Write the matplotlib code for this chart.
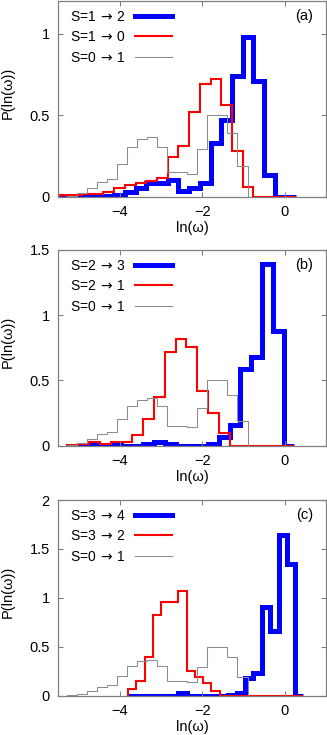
import numpy as np
import matplotlib
matplotlib.use("Agg")
import matplotlib.pyplot as plt
from matplotlib.lines import Line2D

plt.rcParams["font.family"] = ["Liberation Sans", "DejaVu Sans"]
plt.rcParams["font.size"] = 10

# bin edges, one set per panel
edges_a = [-5.44, -5.18, -4.92, -4.66, -4.40, -4.14, -3.88, -3.62, -3.36, -3.10, -2.84, -2.58,
           -2.32, -2.06, -1.80, -1.54, -1.28, -1.02, -0.76, -0.50, -0.24, 0.02, 0.28]
edges_b = [-5.27, -5.01, -4.75, -4.48, -4.22, -3.96, -3.70, -3.44, -3.17, -2.91, -2.65,
           -2.39, -2.13, -1.86, -1.60, -1.34, -1.08, -0.82, -0.55, -0.29, -0.03, 0.23]
edges_c = [-3.80, -3.60, -3.40, -3.19, -2.99, -2.79, -2.58, -2.38, -2.18, -1.98, -1.78,
           -1.57, -1.37, -1.17, -0.96, -0.76, -0.56, -0.36, -0.15, 0.05, 0.25, 0.45]
edges_ref = [-5.29, -5.05, -4.80, -4.56, -4.32, -4.07, -3.83, -3.59, -3.34, -3.10,
             -2.85, -2.61, -2.37, -2.12, -1.88, -1.63, -1.39, -1.15, -0.90]

# S=0 -> 1 reference, same in all panels
p_ref = [0.005, 0.02, 0.05, 0.09, 0.105, 0.2, 0.305, 0.35, 0.365, 0.305,
         0.15, 0.15, 0.14, 0.29, 0.50, 0.50, 0.39, 0.185]

# (a)
p_a_up = [0.005, 0.005, 0.0, 0.0, 0.005, 0.01, 0.03, 0.05, 0.08, 0.08, 0.1,
          0.035, 0.05, 0.08, 0.33, 0.47, 0.74, 0.98, 0.71, 0.13, 0.0, 0.0]
p_a_dn = [0.008, 0.008, 0.017, 0.017, 0.03, 0.053, 0.068, 0.084, 0.098, 0.115, 0.24,
          0.31, 0.52, 0.69, 0.72, 0.56, 0.28, 0.057, 0.0, 0.0, 0.0, 0.0]
# (b)
p_b_up = [0.0, 0.0, 0.004, 0.004, 0.004, 0.0, 0.0, 0.015, 0.03, 0.01, 0.0,
          0.0, 0.0, 0.013, 0.065, 0.16, 0.59, 0.68, 1.39, 0.88, 0.0]
p_b_dn = [0.005, 0.013, 0.03, 0.015, 0.03, 0.03, 0.077, 0.2, 0.37, 0.72, 0.82,
          0.755, 0.415, 0.25, 0.098, 0.0, 0.0, 0.0, 0.0, 0.0, 0.0]
# (c)
p_c_up = [0.0, 0.0, 0.0, 0.0, 0.0, 0.0, 0.03, 0.0, 0.0, 0.0, 0.0,
          0.0, 0.005, 0.03, 0.18, 0.23, 0.91, 0.66, 1.64, 1.35, 0.0]
p_c_dn = [0.07, 0.145, 0.39, 0.82, 0.955, 0.955, 1.07, 0.25, 0.19, 0.13, 0.05,
          0.0, 0.0, 0.0, 0.0, 0.0, 0.0, 0.0, 0.0, 0.0, 0.0]

panels = [
    ("(a)", edges_a, p_a_up, p_a_dn, ["S=1$\\,\\rightarrow\\,$2", "S=1$\\,\\rightarrow\\,$0"], 1.2, [0, 0.5, 1]),
    ("(b)", edges_b, p_b_up, p_b_dn, ["S=2$\\,\\rightarrow\\,$3", "S=2$\\,\\rightarrow\\,$1"], 1.5, [0, 0.5, 1, 1.5]),
    ("(c)", edges_c, p_c_up, p_c_dn, ["S=3$\\,\\rightarrow\\,$4", "S=3$\\,\\rightarrow\\,$2"], 2.0, [0, 0.5, 1, 1.5, 2]),
]
ref_label = "S=0$\\,\\rightarrow\\,$1"

W, H = 327, 735
fig = plt.figure(figsize=(W / 100, H / 100), dpi=100)
tops = [1, 250, 500]
box_h = 195.5
frame = "#808080"

for (tag, edges, up, dn, labels, ymax, yt), top in zip(panels, tops):
    ax = fig.add_axes([58 / W, (H - top - box_h) / H, 268 / W, box_h / H])
    ax.stairs(up, edges, color="#0000ff", lw=3.6, joinstyle="miter")
    ax.stairs(dn, edges, color="#ff0000", lw=1.5, joinstyle="miter")
    ax.stairs(p_ref, edges_ref, color="#8c8c8c", lw=0.75, joinstyle="miter")
    ax.set_xlim(-5.5, 1)
    ax.set_ylim(0, ymax)
    ax.set_xticks([-4, -2, 0])
    ax.set_xticklabels(["\u22124", "\u22122", "0"])
    ax.set_yticks(yt)
    ax.set_yticklabels(["%g" % v for v in yt])
    ax.tick_params(direction="in", top=True, right=True, length=3.5, width=0.8,
                   color=frame, labelsize=10.5)
    ax.tick_params(axis="y", pad=6)
    ax.tick_params(axis="x", pad=6)
    for sp in ax.spines.values():
        sp.set_color(frame)
        sp.set_linewidth(0.9)
    ax.set_xlabel("ln(\u03c9)", fontsize=10.5)
    ax.set_ylabel("P(ln(\u03c9))", fontsize=10.5)
    ax.xaxis.set_label_coords(0.5, -0.127)
    ax.yaxis.set_label_coords(-0.163, 0.53)
    ax.text(0.92, 0.925, tag, transform=ax.transAxes, ha="center", va="center", fontsize=10.5)
    handles = [Line2D([], [], color="#0000ff", lw=3.6),
               Line2D([], [], color="#ff0000", lw=1.5),
               Line2D([], [], color="#8c8c8c", lw=0.75)]
    ax.legend(handles, labels + [ref_label], loc="upper left", bbox_to_anchor=(0.01, 1.0),
              markerfirst=False, frameon=False, handlelength=2.7, handletextpad=0.65,
              labelspacing=0.45, borderaxespad=0.25, fontsize=10)

fig.savefig("out.png", dpi=100)
